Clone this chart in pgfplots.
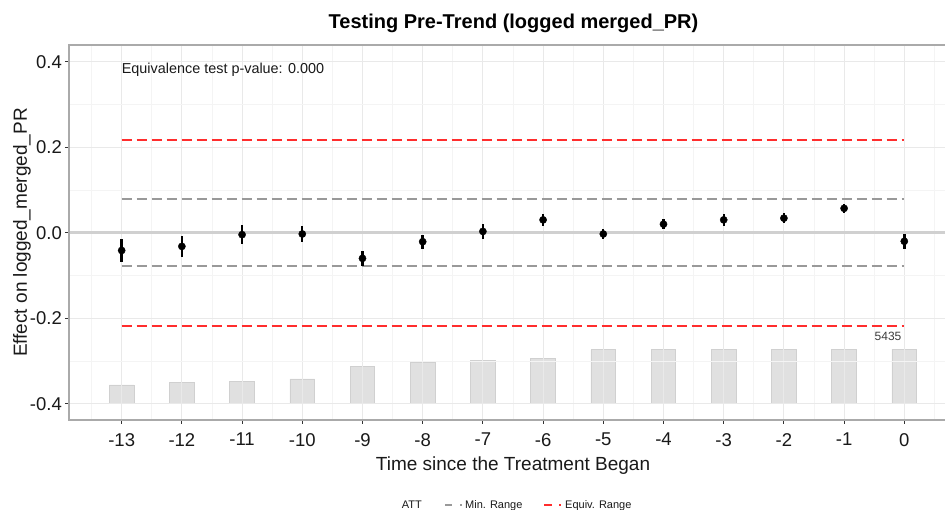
\documentclass[border=0pt]{standalone}
\usepackage{pgfplots}
\pgfplotsset{compat=1.18}
\usepackage{fontspec}
\setmainfont{Liberation Sans}
\definecolor{gridmajor}{RGB}{233,233,233}
\definecolor{gridminor}{RGB}{244,244,244}
\definecolor{axiscol}{RGB}{170,170,170}
\definecolor{tickcol}{RGB}{51,51,51}
\definecolor{ticktext}{RGB}{25,25,25}
\definecolor{zerocol}{RGB}{208,208,208}
\definecolor{mincol}{RGB}{153,153,153}
\definecolor{redcol}{RGB}{255,45,45}
\definecolor{barfill}{RGB}{224,224,224}
\definecolor{barline}{RGB}{208,208,208}
\definecolor{annot}{RGB}{60,60,60}
\begin{document}
\begin{tikzpicture}
\useasboundingbox (-69pt,-90pt) rectangle (876pt,420pt);
\begin{axis}[
  at={(0pt,0pt)}, anchor=south west,
  scale only axis, width=876pt, height=375pt,
  xmin=-13.875, xmax=0.676, ymin=-0.038, ymax=0.839,
  hide axis,
]
\addplot[ybar, bar width=0.41, bar shift=0pt, fill=barfill, draw=barline, line width=0.8pt]
  coordinates {
  (-13,0.044) (-12,0.049) (-11,0.053) (-10,0.058) (-9,0.087) (-8,0.096) (-7,0.102)
  (-6,0.106) (-5,0.126) (-4,0.128) (-3,0.128) (-2,0.128) (-1,0.128) (0,0.128)
  };
\end{axis}
\begin{axis}[
  name=main,
  at={(0pt,0pt)}, anchor=south west,
  scale only axis, width=876pt, height=375pt,
  xmin=-13.875, xmax=0.676, ymin=-0.438, ymax=0.439,
  xtick={-13,-12,-11,-10,-9,-8,-7,-6,-5,-4,-3,-2,-1,0},
  xticklabels={-13,-12,-11,-10,-9,-8,-7,-6,-5,-4,-3,-2,-1,0},
  ytick={-0.4,-0.2,0,0.2,0.4},
  yticklabels={-0.4,-0.2,0.0,0.2,0.4},
  minor xtick={-13.5,-12.5,-11.5,-10.5,-9.5,-8.5,-7.5,-6.5,-5.5,-4.5,-3.5,-2.5,-1.5,-0.5,0.5},
  minor ytick={-0.3,-0.1,0.1,0.3},
  grid=both,
  major grid style={color=gridmajor, line width=1.1pt},
  minor grid style={color=gridminor, line width=0.8pt},
  tick pos=left, tick align=outside,
  major tick length=4pt, minor tick length=0pt,
  tick style={color=tickcol, line width=1pt},
  axis line style={draw=none},
  ticklabel style={font=\fontsize{18.5}{20}\selectfont, text=ticktext},
  xticklabel style={inner sep=0pt, anchor=north, yshift=-9pt},
  yticklabel style={inner sep=0pt, anchor=east, xshift=-3pt},
]
\addplot[color=zerocol, line width=3pt] coordinates {(-14,0) (1,0)};
\addplot[color=mincol, line width=1.8pt, dash pattern=on 10pt off 5pt] coordinates {(-13,0.078) (0,0.078)};
\addplot[color=mincol, line width=1.8pt, dash pattern=on 10pt off 5pt] coordinates {(-13,-0.078) (0,-0.078)};
\addplot[draw=redcol, line width=2pt, dash pattern=on 10pt off 5pt] coordinates {(-13,0.217) (0,0.217)};
\addplot[draw=redcol, line width=2pt, dash pattern=on 10pt off 5pt] coordinates {(-13,-0.218) (0,-0.218)};
\addplot[only marks, mark=*, mark size=3.6pt, black,
  error bars/.cd, y dir=both, y explicit, error mark=none,
  error bar style={line width=2.4pt, black}]
  coordinates {
  (-13,-0.0415) +- (0,0.0265)
  (-12,-0.032) +- (0,0.025)
  (-11,-0.0045) +- (0,0.0215)
  (-10,-0.003) +- (0,0.019)
  (-9,-0.060) +- (0,0.017)
  (-8,-0.021) +- (0,0.016)
  (-7,0.003) +- (0,0.017)
  (-6,0.030) +- (0,0.0135)
  (-5,-0.003) +- (0,0.011)
  (-4,0.020) +- (0,0.0115)
  (-3,0.030) +- (0,0.0135)
  (-2,0.034) +- (0,0.0115)
  (-1,0.057) +- (0,0.011)
  (0,-0.020) +- (0,0.017)
  };
\node[anchor=base west, inner sep=0pt, font=\fontsize{14.4}{16}\selectfont, text=ticktext] at (axis cs:-13,0.373) {Equivalence test p-value: 0.000};
\node[inner sep=0pt, font=\fontsize{12}{14}\selectfont, text=annot] at (axis cs:-0.27,-0.243) {5435};
\end{axis}
\draw[axiscol, line width=1.3pt] (main.north east) -- (main.north west) -- (main.south west) -- (main.south east);
\node[anchor=base, inner sep=0pt, font=\bfseries\fontsize{20}{24}\selectfont] at (444.5pt,391.7pt) {Testing Pre-Trend (logged merged\_PR)};
\node[anchor=base, inner sep=0pt, font=\fontsize{19}{22}\selectfont, text=ticktext] at (444pt,-50.8pt) {Time since the Treatment Began};
\node[rotate=90, inner sep=0pt, font=\fontsize{19}{22}\selectfont, text=ticktext] at (-47pt,187.5pt) {Effect on logged\_merged\_PR};
\node[anchor=base west, inner sep=0pt, font=\fontsize{11}{13}\selectfont, text=ticktext] at (332.7pt,-89pt) {ATT};
\draw[mincol, line width=1.6pt] (376pt,-85pt) -- (383pt,-85pt);
\draw[mincol, line width=1.6pt] (391.3pt,-85pt) -- (392.8pt,-85pt);
\node[anchor=base west, inner sep=0pt, font=\fontsize{11}{13}\selectfont, text=ticktext] at (396pt,-89pt) {Min. Range};
\draw[redcol, line width=1.6pt] (475pt,-85pt) -- (483pt,-85pt);
\draw[redcol, line width=1.6pt] (490.3pt,-85pt) -- (491.8pt,-85pt);
\node[anchor=base west, inner sep=0pt, font=\fontsize{11}{13}\selectfont, text=ticktext] at (496pt,-89pt) {Equiv. Range};
\end{tikzpicture}
\end{document}
